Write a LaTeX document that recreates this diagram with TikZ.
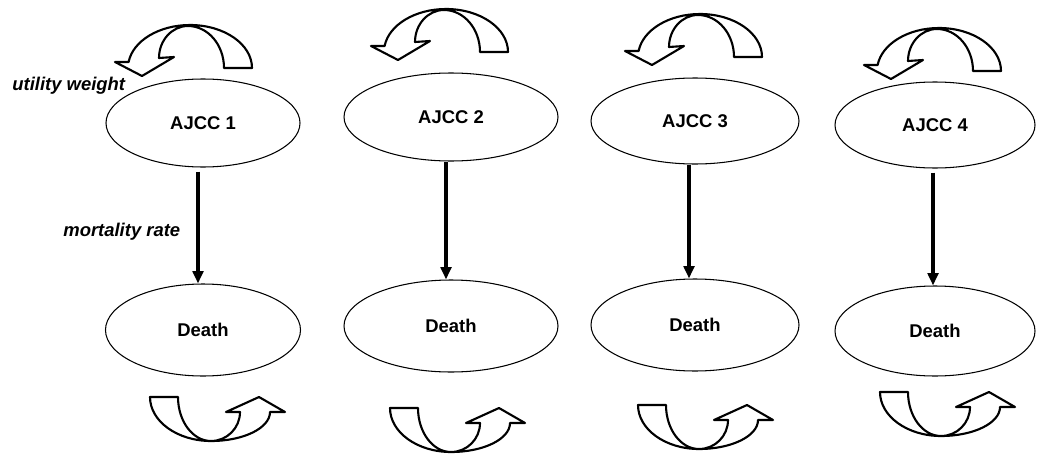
\documentclass[tikz,border=0pt]{standalone}
\usepackage{fontspec}
\setmainfont{Liberation Sans}
\usetikzlibrary{shapes.geometric,arrows.meta}

% bucle de permanencia arriba (origen: base exterior derecha)
\newcommand{\staytop}[1]{%
  \filldraw[loopband, shift={(#1)}]
    (0,0) arc[start angle=0, end angle=172, x radius=62, y radius=43]
    -- (-137,6) -- (-110,-8) -- (-78,11) -- (-93,10)
    arc[start angle=180, end angle=90, x radius=29, y radius=32]
    arc[start angle=90, end angle=0, x radius=36, y radius=42] -- cycle;}
% bucle de permanencia abajo (origen: esquina superior izquierda)
\newcommand{\staybottom}[1]{%
  \filldraw[loopband, shift={(#1)}]
    (0,0) -- (28,0)
    arc[start angle=180, end angle=270, x radius=33, y radius=44]
    arc[start angle=270, end angle=360, x radius=29, y radius=29]
    -- (76,-15) -- (109,0) -- (135,-15) -- (120,-15)
    arc[start angle=0, end angle=-90, x radius=59, y radius=29]
    arc[start angle=270, end angle=180, x radius=61, y radius=44] -- cycle;}

\begin{document}
\begin{tikzpicture}[x=0.02cm, y=0.02cm,
    state/.style={ellipse, draw, line width=0.6pt, inner sep=0pt,
      font=\fontsize{10.5pt}{12pt}\selectfont\bfseries},
    flow/.style={line width=1.9pt, -{Triangle[length=7pt, width=6pt]}},
    loopband/.style={fill=white, draw=black, line width=1.2pt, line join=round},
    lab/.style={anchor=west, inner sep=0pt,
      font=\fontsize{10.5pt}{12pt}\selectfont\bfseries\itshape}]
    \useasboundingbox (0,0) rectangle (1037,454);

    % Estados AJCC
    \node[state, minimum width=194*0.02cm, minimum height=88*0.02cm] (a1) at (203,331) {AJCC 1};
    \node[state, minimum width=214*0.02cm, minimum height=88*0.02cm] (a2) at (451,337) {AJCC 2};
    \node[state, minimum width=208*0.02cm, minimum height=86*0.02cm] (a3) at (695,333) {AJCC 3};
    \node[state, minimum width=200*0.02cm, minimum height=86*0.02cm] (a4) at (935,329) {AJCC 4};

    % Estados absorbentes
    \node[state, minimum width=195*0.02cm, minimum height=92*0.02cm] (d1) at (203,124) {Death};
    \node[state, minimum width=214*0.02cm, minimum height=92*0.02cm] (d2) at (451,128) {Death};
    \node[state, minimum width=208*0.02cm, minimum height=92*0.02cm] (d3) at (695,129) {Death};
    \node[state, minimum width=200*0.02cm, minimum height=90*0.02cm] (d4) at (935,123) {Death};

    % Transiciones
    \draw[flow, shorten <=4*0.02cm] ([xshift=-0.1cm]a1.south) -- ([xshift=-0.1cm]d1.north);
    \draw[flow] ([xshift=-0.1cm]a2.south) -- ([xshift=-0.1cm]d2.north);
    \draw[flow] ([xshift=-0.12cm]a3.south) -- ([xshift=-0.12cm]d3.north);
    \draw[flow, shorten <=4*0.02cm] ([xshift=-0.04cm]a4.south) -- ([xshift=-0.04cm]d4.north);

    % Bucles
    \staytop{252,386}
    \staytop{508,402}
    \staytop{762,397}
    \staytop{1001,383}
    \staybottom{150,57}
    \staybottom{390,46}
    \staybottom{638,49}
    \staybottom{880,62}

    % Etiquetas
    \node[lab] (uw) at (12,368) {utility weight};
    \node[lab] (mr) at (63,222) {mortality rate};
\end{tikzpicture}
\end{document}
